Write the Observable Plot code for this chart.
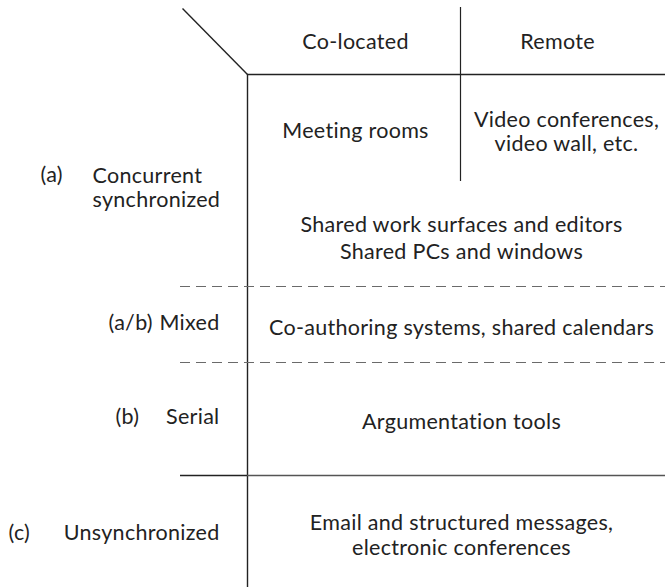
<!DOCTYPE html>
<html>
<head>
<meta charset="utf-8">
<script src="https://cdn.jsdelivr.net/npm/d3@7"></script>
<script src="https://cdn.jsdelivr.net/npm/@observablehq/plot@0.6"></script>
<style>
  html, body { margin: 0; padding: 0; background: #fff; }
  #chart svg { display: block; }
  #chart svg text { letter-spacing: 0.3px; }
</style>
</head>
<body>
<div id="chart"></div>
<script>
// ---- content ----
const columnLabels = ["Co-located", "Remote"];
const rowLetters = ["(a)", "(a/b)", "(b)", "(c)"];
const rowNames = ["Concurrent\nsynchronized", "Mixed", "Serial", "Unsynchronized"];
const splitCells = ["Meeting rooms", "Video conferences,\nvideo wall, etc."];
const rowCells = [
  "Shared work surfaces and editors\nShared PCs and windows",
  "Co-authoring systems, shared calendars",
  "Argumentation tools",
  "Email and structured messages,\nelectronic conferences"
];

// ---- layout (diagram units) ----
const W = 665, H = 587;
const colCenters = [355, 557];
const splitCellX = [355, 566];
const splitCellY = [130, 131];
const splitX = 460, axisX = 247, topY = 74, rightX = 665;
const headerY = 42;
const rowCellX = 461;
const rowCellY = [236, 326, 420, 534];
const rowNameY = [187, 323, 417, 533];
const rowLetterY = [175, 323, 417, 533];
const rowLetterX = [40, 108, 115, 8];
const nameStartX = 92, nameEndX = 219;
const sepY = [286, 362];
const solidY = 475;
const sepLeft = 180;

const ink = "#222";
const font = "Lato, 'Open Sans', sans-serif";
const fs = 21.5;

const rowsText = rowNames.map((name, i) => ({
  letter: rowLetters[i], name, y: rowNameY[i], ly: rowLetterY[i], lx: rowLetterX[i]
}));
const cellsText = rowCells.map((text, i) => ({text, y: rowCellY[i]}));
const splitText = splitCells.map((text, i) => ({text, x: splitCellX[i], y: splitCellY[i]}));

const plot = Plot.plot({
  width: W, height: H,
  margin: 0,
  x: {domain: [0, W], range: [0, W], axis: null},
  y: {domain: [0, H], range: [0, H], axis: null},
  style: {background: "#fff", fontFamily: font},
  marks: [
    // diagonal corner
    Plot.link([{x1: 182, y1: 8, x2: axisX, y2: topY}], {x1: "x1", y1: "y1", x2: "x2", y2: "y2", stroke: ink, strokeWidth: 1.4}),
    // top horizontal
    Plot.ruleY([topY], {x1: axisX, x2: rightX, stroke: ink, strokeWidth: 1.4}),
    // main vertical
    Plot.ruleX([axisX], {y1: topY, y2: H, stroke: ink, strokeWidth: 1.4}),
    // column split
    Plot.ruleX([splitX], {y1: 7, y2: 181, stroke: ink, strokeWidth: 1.2}),
    // dashed separators
    Plot.ruleY(sepY, {x1: sepLeft, x2: rightX, stroke: "#6a6a6a", strokeWidth: 1.2, strokeDasharray: "10,6"}),
    // solid separator
    Plot.ruleY([solidY], {x1: sepLeft, x2: axisX, stroke: ink, strokeWidth: 1.4}),
    Plot.ruleY([solidY], {x1: axisX, x2: rightX, stroke: "#555", strokeWidth: 1.4}),
    // headers
    Plot.text(columnLabels, {x: (d, i) => colCenters[i], y: headerY, text: d => d, fontSize: fs, fill: ink, textAnchor: "middle"}),
    // split cells
    Plot.text(splitText, {x: "x", y: "y", text: "text", fontSize: fs, fill: ink, textAnchor: "middle", lineHeight: 1.12}),
    // row cells
    Plot.text(cellsText.slice(0, 1), {x: rowCellX, y: "y", text: "text", fontSize: fs, fill: ink, textAnchor: "middle", lineHeight: 1.25}),
    Plot.text(cellsText.slice(1), {x: rowCellX, y: "y", text: "text", fontSize: fs, fill: ink, textAnchor: "middle", lineHeight: 1.17}),
    // row letters
    Plot.text(rowsText, {x: "lx", y: "ly", text: "letter", fontSize: fs, fill: ink, textAnchor: "start"}),
    // row names: first one left-aligned, the rest right-aligned
    Plot.text(rowsText.slice(0, 1), {x: nameStartX, y: "y", text: "name", fontSize: fs, fill: ink, textAnchor: "start", lineHeight: 1.12}),
    Plot.text(rowsText.slice(1), {x: nameEndX, y: "y", text: "name", fontSize: fs, fill: ink, textAnchor: "end"})
  ]
});

document.getElementById("chart").append(plot);
</script>
</body>
</html>
